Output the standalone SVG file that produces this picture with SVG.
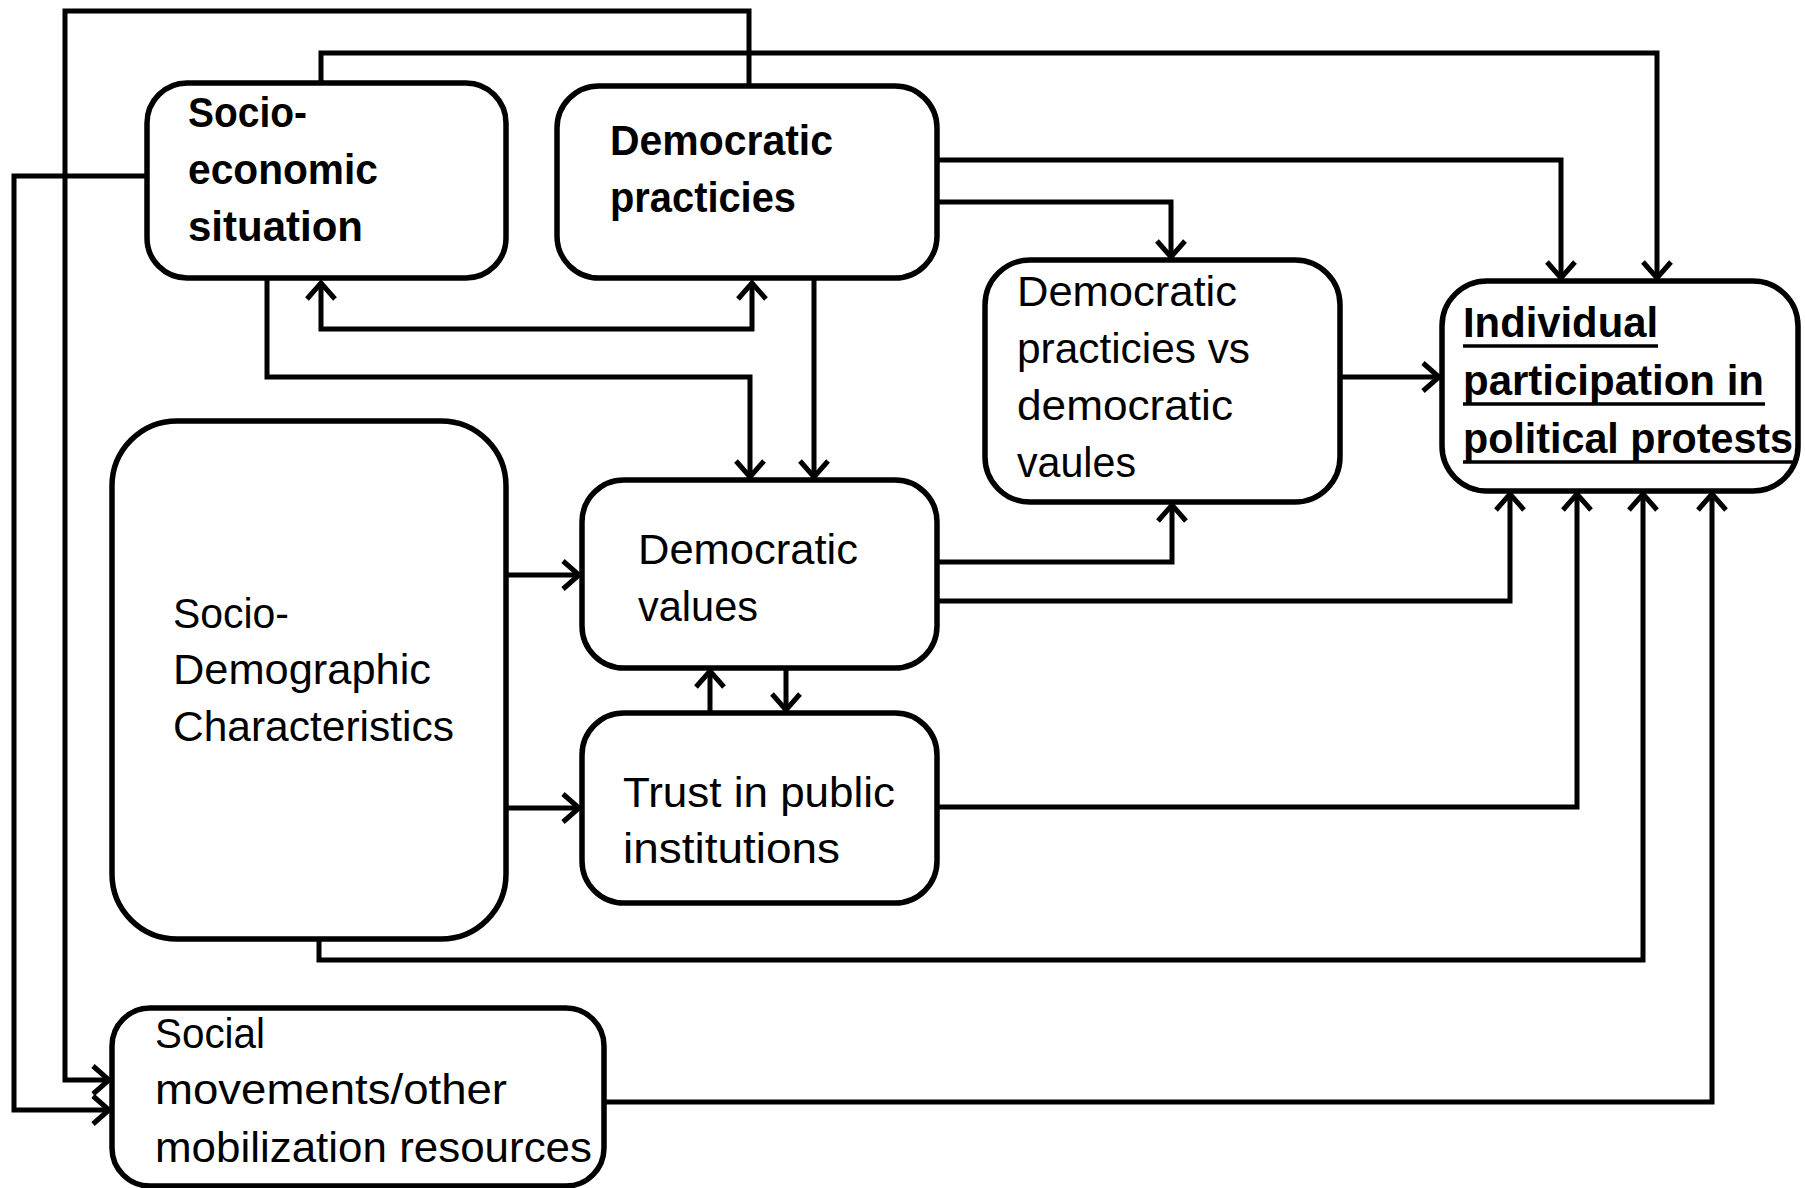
<svg xmlns="http://www.w3.org/2000/svg" width="1805" height="1188" viewBox="0 0 1805 1188">
<style>
.box{fill:#fff;stroke:#000;stroke-width:5.5}
.t{font-family:"Liberation Sans",Arial,sans-serif;font-size:42px;fill:#000}
.b{font-weight:bold}
.c{fill:none;stroke:#000;stroke-width:5;stroke-linejoin:miter}
.ul{stroke:#000;stroke-width:3.5}
</style>
<defs>
<marker id="arr" viewBox="0 0 26 34" refX="21" refY="17" markerWidth="26" markerHeight="34" markerUnits="userSpaceOnUse" orient="auto-start-reverse">
<path d="M4,3 L20,17 L4,31" fill="none" stroke="#000" stroke-width="5"/>
</marker>
</defs>
<rect width="1805" height="1188" fill="#fff"/>
<g id="connectors">
<path class="c" d="M749,86 V11 H65 V1080 H110" marker-end="url(#arr)"/>
<path class="c" d="M321,83 V53 H1657 V279" marker-end="url(#arr)"/>
<path class="c" d="M147,176 H14 V1110 H110" marker-end="url(#arr)"/>
<path class="c" d="M937,160 H1561 V279" marker-end="url(#arr)"/>
<path class="c" d="M937,202 H1171 V258" marker-end="url(#arr)"/>
<path class="c" d="M1340,377 H1440" marker-end="url(#arr)"/>
<path class="c" d="M267,278 V377 H750 V478" marker-end="url(#arr)"/>
<path class="c" d="M814,278 V478" marker-end="url(#arr)"/>
<path class="c" d="M321,282 V329 H752 V282" marker-start="url(#arr)" marker-end="url(#arr)"/>
<path class="c" d="M506,575 H580" marker-end="url(#arr)"/>
<path class="c" d="M506,808 H580" marker-end="url(#arr)"/>
<path class="c" d="M710,713 V670" marker-end="url(#arr)"/>
<path class="c" d="M786,668 V711" marker-end="url(#arr)"/>
<path class="c" d="M937,562 H1172 V504" marker-end="url(#arr)"/>
<path class="c" d="M937,601 H1510 V493" marker-end="url(#arr)"/>
<path class="c" d="M937,807 H1577 V493" marker-end="url(#arr)"/>
<path class="c" d="M319,939 V960 H1643 V493" marker-end="url(#arr)"/>
<path class="c" d="M604,1102 H1712 V493" marker-end="url(#arr)"/>
</g>
<g id="socio-economic">
<rect class="box" x="147" y="83" width="359" height="195" rx="40"/>
<text class="t b" x="188" y="127" textLength="119" lengthAdjust="spacingAndGlyphs">Socio-</text>
<text class="t b" x="188" y="184" textLength="190" lengthAdjust="spacingAndGlyphs">economic</text>
<text class="t b" x="188" y="241" textLength="175" lengthAdjust="spacingAndGlyphs">situation</text>
</g>
<g id="democratic-practices">
<rect class="box" x="557" y="86" width="380" height="192" rx="42"/>
<text class="t b" x="610" y="155" textLength="223" lengthAdjust="spacingAndGlyphs">Democratic</text>
<text class="t b" x="610" y="212" textLength="186" lengthAdjust="spacingAndGlyphs">practicies</text>
</g>
<g id="practices-vs-values">
<rect class="box" x="985" y="260" width="355" height="242" rx="45"/>
<text class="t" x="1017" y="306" textLength="220" lengthAdjust="spacingAndGlyphs">Democratic</text>
<text class="t" x="1017" y="363" textLength="233" lengthAdjust="spacingAndGlyphs">practicies vs</text>
<text class="t" x="1017" y="420" textLength="216" lengthAdjust="spacingAndGlyphs">democratic</text>
<text class="t" x="1017" y="477" textLength="119" lengthAdjust="spacingAndGlyphs">vaules</text>
</g>
<g id="individual-participation">
<rect class="box" x="1442" y="281" width="356" height="210" rx="45"/>
<text class="t b" x="1463" y="337" textLength="195" lengthAdjust="spacingAndGlyphs">Individual</text>
<text class="t b" x="1463" y="395" textLength="301" lengthAdjust="spacingAndGlyphs">participation in</text>
<text class="t b" x="1463" y="453" textLength="330" lengthAdjust="spacingAndGlyphs">political protests</text>
<line class="ul" x1="1463" y1="346" x2="1658" y2="346"/>
<line class="ul" x1="1463" y1="404" x2="1765" y2="404"/>
<line class="ul" x1="1463" y1="462" x2="1793" y2="462"/>
</g>
<g id="socio-demographic">
<rect class="box" x="112" y="421" width="394" height="518" rx="65"/>
<text class="t" x="173" y="628" textLength="116" lengthAdjust="spacingAndGlyphs">Socio-</text>
<text class="t" x="173" y="684" textLength="258" lengthAdjust="spacingAndGlyphs">Demographic</text>
<text class="t" x="173" y="741" textLength="281" lengthAdjust="spacingAndGlyphs">Characteristics</text>
</g>
<g id="democratic-values">
<rect class="box" x="582" y="480" width="355" height="188" rx="42"/>
<text class="t" x="638" y="564" textLength="220" lengthAdjust="spacingAndGlyphs">Democratic</text>
<text class="t" x="638" y="621" textLength="120" lengthAdjust="spacingAndGlyphs">values</text>
</g>
<g id="trust">
<rect class="box" x="582" y="713" width="355" height="190" rx="42"/>
<text class="t" x="623" y="807" textLength="272" lengthAdjust="spacingAndGlyphs">Trust in public</text>
<text class="t" x="623" y="863" textLength="217" lengthAdjust="spacingAndGlyphs">institutions</text>
</g>
<g id="social-movements">
<rect class="box" x="112" y="1008" width="492" height="178" rx="38"/>
<text class="t" x="155" y="1048" textLength="110" lengthAdjust="spacingAndGlyphs">Social</text>
<text class="t" x="155" y="1104" textLength="352" lengthAdjust="spacingAndGlyphs">movements/other</text>
<text class="t" x="155" y="1162" textLength="437" lengthAdjust="spacingAndGlyphs">mobilization resources</text>
</g>
</svg>
